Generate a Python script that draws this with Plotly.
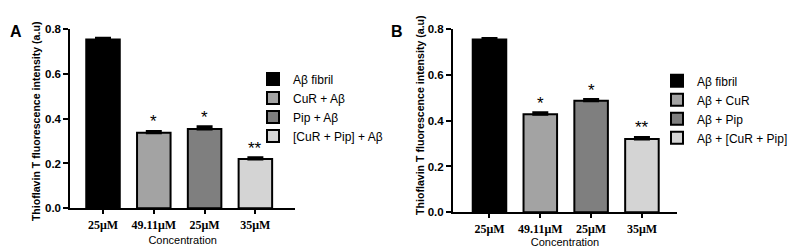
import plotly.graph_objects as go

# ---- data ----
tick_labels = ["25μM", "49.11μM", "25μM", "35μM"]
names_a = ["Aβ fibril", "CuR + Aβ", "Pip + Aβ", "[CuR + Pip] + Aβ"]
names_b = ["Aβ fibril", "Aβ + CuR", "Aβ + Pip", "Aβ + [CuR + Pip]"]
values_a = [0.754, 0.337, 0.354, 0.220]
errors_a = [0.006, 0.006, 0.010, 0.006]
values_b = [0.754, 0.428, 0.487, 0.320]
errors_b = [0.004, 0.006, 0.005, 0.007]
stars = ["", "*", "*", "**"]
colors = ["#000000", "#a3a3a3", "#7f7f7f", "#d4d4d4"]
y_ticks = [0.0, 0.2, 0.4, 0.6, 0.8]

W, H = 797, 251
def px(x): return x / W
def py(y): return 1 - y / H

fig = go.Figure()
panels = [
    ("x", "y", "legend", names_a, values_a, errors_a),
    ("x2", "y2", "legend2", names_b, values_b, errors_b),
]
for xa, ya, lg, names, vals, errs in panels:
    for i, (n, v, e, c) in enumerate(zip(names, vals, errs, colors)):
        fig.add_trace(go.Bar(
            x=[i], y=[v], width=0.66, name=n, legend=lg,
            xaxis=xa, yaxis=ya,
            marker=dict(color=c, line=dict(color="black", width=2)),
            error_y=dict(type="data", array=[e], arrayminus=[0], symmetric=False,
                         color="black", thickness=3, width=8),
        ))
        if stars[i]:
            fig.add_annotation(x=i, y=v + e, xref=xa, yref=ya, text=stars[i],
                               showarrow=False, yanchor="bottom", yshift=-2,
                               font=dict(family="Liberation Sans", size=17, color="black"))

axis_common = dict(showgrid=False, zeroline=False, showline=True, linecolor="black",
                   linewidth=2, ticks="outside", tickcolor="black", tickwidth=2)
ytitle = "<b>Thioflavin T fluorescence intensity (a.u)</b>"
xtick_font = dict(family="Liberation Serif", size=12)

fig.update_layout(
    width=W, height=H, margin=dict(l=0, r=0, t=0, b=0),
    paper_bgcolor="white", plot_bgcolor="white", barmode="overlay",
    font=dict(family="Liberation Sans", color="black"),
    xaxis=dict(domain=[px(62.3), px(287)], range=[-0.644, 3.78],
               tickvals=list(range(4)), ticktext=["<b>%s</b>" % t for t in tick_labels],
               tickfont=xtick_font, ticklen=4,
               title=dict(text="Concentration", font=dict(size=11), standoff=6),
               anchor="y", **axis_common),
    yaxis=dict(domain=[py(204), py(16)], range=[0, 0.8], tickvals=y_ticks,
               ticktext=["<b>%.1f</b>" % t for t in y_ticks], ticklen=5,
               tickfont=dict(size=11.5), anchor="x", **axis_common),
    xaxis2=dict(domain=[px(445), px(669)], range=[-0.718, 3.69],
                tickvals=list(range(4)), ticktext=["<b>%s</b>" % t for t in tick_labels],
                tickfont=xtick_font, ticklen=4,
                title=dict(text="Concentration", font=dict(size=11), standoff=1),
                anchor="y2", **axis_common),
    yaxis2=dict(domain=[py(208.3), py(15.7)], range=[0, 0.8], tickvals=y_ticks,
                ticktext=["<b>%.1f</b>" % t for t in y_ticks], ticklen=5,
                tickfont=dict(size=11.5), anchor="x2", **axis_common),
    legend=dict(x=px(245), y=py(53), xanchor="left", yanchor="top",
                font=dict(size=12), bgcolor="rgba(0,0,0,0)", tracegroupgap=0),
    legend2=dict(x=px(649), y=py(55), xanchor="left", yanchor="top",
                 font=dict(size=12), bgcolor="rgba(0,0,0,0)", tracegroupgap=0),
    showlegend=True,
)
# y-axis titles
fig.add_annotation(text=ytitle, x=px(27.5), y=py(113), xref="paper", yref="paper",
                   textangle=-90, showarrow=False, font=dict(size=10.6),
                   xanchor="center", yanchor="middle")
fig.add_annotation(text=ytitle, x=px(412), y=py(106), xref="paper", yref="paper",
                   textangle=-90, showarrow=False, font=dict(size=10.6),
                   xanchor="center", yanchor="middle")
fig.add_annotation(text="<b>A</b>", x=px(8), y=py(18), xref="paper", yref="paper",
                   showarrow=False, font=dict(size=16), xanchor="center", yanchor="middle")
fig.add_annotation(text="<b>B</b>", x=px(389), y=py(18), xref="paper", yref="paper",
                   showarrow=False, font=dict(size=16), xanchor="center", yanchor="middle")

fig.write_html("out.html")
